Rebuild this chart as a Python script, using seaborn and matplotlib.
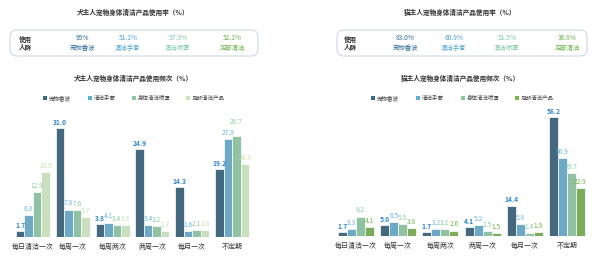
import matplotlib
matplotlib.use("Agg")
import matplotlib.pyplot as plt
from matplotlib.patches import FancyBboxPatch, Rectangle
import seaborn as sns
import pandas as pd

sns.set_theme(style="white")
plt.rcParams['font.family'] = ['Noto Sans CJK SC', 'DejaVu Sans']

categories = ["每日清洁一次", "每周一次", "每周两次", "两周一次", "每月一次", "不定期"]
series = ["宠物香波", "清洁手套", "身体清洁喷雾", "足部清洁产品"]

dog_shampoo = [1.7, 31.0, 3.8, 24.9, 14.3, 19.2]
dog_gloves = [6.3, 7.8, 4.1, 3.4, 1.6, 27.9]
dog_spray = [12.9, 7.6, 3.4, 3.2, 2.1, 28.7]
dog_foot = [18.5, 5.7, 3.3, 1.7, 1.9, 20.8]

cat_shampoo = [1.7, 5.0, 1.7, 4.1, 14.4, 56.2]
cat_gloves = [3.3, 6.5, 3.2, 5.2, 5.8, 36.9]
cat_spray = [9.2, 5.5, 3.2, 2.5, 1.4, 29.7]
cat_foot = [4.1, 3.8, 2.6, 1.5, 1.9, 22.9]

usage_labels = ["宠物香波", "清洁手套", "清洁喷雾", "足部清洁"]
dog_usage = ["95%", "51.1%", "57.9%", "52.1%"]
cat_usage = ["83.0%", "60.9%", "51.5%", "36.8%"]

dog_title1 = "犬主人宠物身体清洁产品使用率（%）"
dog_title2 = "犬主人宠物身体清洁产品使用频次（%）"
cat_title1 = "猫主人宠物身体清洁产品使用率（%）"
cat_title2 = "猫主人宠物身体清洁产品使用频次（%）"

bar_colors_dog = ["#3b6a88", "#5eaed3", "#88c9a1", "#c9e4b8"]
bar_colors_cat = ["#3b6a88", "#5eaed3", "#88c9a1", "#7ab84f"]
label_colors_dog = ["#2f86cc", "#6ab6de", "#8acda3", "#c4e2b0"]
label_colors_cat = ["#2f86cc", "#6ab6de", "#8acda3", "#72b446"]
usage_colors = ["#2f6e98", "#4ba3d0", "#80c9a2", "#6cb24a"]


def long_df(vals):
    rows = []
    for s, v in zip(series, vals):
        for c, x in zip(categories, v):
            rows.append({"cat": c, "series": s, "value": x})
    return pd.DataFrame(rows)


fig = plt.figure(figsize=(6.0, 2.61), dpi=100)

# background overlay in pixel coordinates
bg = fig.add_axes([0, 0, 1, 1], zorder=0)
bg.set_xlim(0, 600)
bg.set_ylim(261, 0)
bg.axis("off")

fs_title = 4.8


def panel_header(x0, x1, xc, t1, t2, usage, label_xs, head_x):
    bg.text(xc, 12, t1, ha="center", va="center", fontsize=fs_title, color="#333333", fontweight="bold")
    bg.add_patch(FancyBboxPatch((x0, 30), x1 - x0, 26, boxstyle="round,pad=0,rounding_size=7",
                                fc="white", ec="#c6d3e2", lw=0.7))
    bg.text(head_x, 43, "使用\n人群", ha="center", va="center", fontsize=4.7, color="#333333",
            fontweight="bold", linespacing=1.15)
    for x, v, lab, col in zip(label_xs, usage, usage_labels, usage_colors):
        bg.text(x, 38, v, ha="center", va="center", fontsize=4.8, color=col)
        bg.text(x, 48, lab, ha="center", va="center", fontsize=4.6, color=col)
    bg.text(xc, 78, t2, ha="center", va="center", fontsize=fs_title, color="#333333", fontweight="bold")


panel_header(10, 258, 133, dog_title1, dog_title2, dog_usage, [82, 128, 178, 232], 25)
panel_header(337, 587, 460, cat_title1, cat_title2, cat_usage, [405, 454, 507, 567], 350)


def legend_row(xs, colors):
    for x, s, c in zip(xs, series, colors):
        bg.add_patch(Rectangle((x - 2, 96), 4, 4, fc=c, ec="none"))
        bg.text(x + 4, 98, s, ha="left", va="center", fontsize=4.0, color="#444444")


legend_row([45, 90, 134, 188], bar_colors_dog)
legend_row([373, 418, 463, 517], bar_colors_cat)


def bar_panel(rect, vals, colors, lcolors, ymax):
    ax = fig.add_axes(rect, zorder=1)
    ax.patch.set_alpha(0)
    df = long_df(vals)
    sns.barplot(data=df, x="cat", y="value", hue="series", hue_order=series, order=categories,
                palette=colors, width=0.85, edgecolor="white", linewidth=0.5,
                legend=False, ax=ax, errorbar=None)
    labels = []
    for i, cont in enumerate(ax.containers):
        labels.append(ax.bar_label(cont, fmt="%.1f", padding=1.5, fontsize=4.8, color=lcolors[i],
                                   fontweight="bold" if i == 0 else "normal"))
    ax.set_xlim(-0.5, 5.5)
    ax.set_ylim(0, ymax)
    ax.set_xlabel("")
    ax.set_ylabel("")
    ax.set_yticks([])
    ax.tick_params(axis="x", length=0, pad=4, labelsize=5.0, labelcolor="#333333")
    for sp in ax.spines.values():
        sp.set_visible(False)
    return ax, labels


ax_dog, dog_labels = bar_panel([13 / 600, 24 / 261, 239 / 600, 132 / 261],
                               [dog_shampoo, dog_gloves, dog_spray, dog_foot],
                               bar_colors_dog, label_colors_dog, 37.5)
# lift the spray label of the last group above the neighbouring glove label
dog_labels[2][5].xyann = (0, 7)

bar_panel([335 / 600, 25 / 261, 253 / 600, 131 / 261],
          [cat_shampoo, cat_gloves, cat_spray, cat_foot], bar_colors_cat, label_colors_cat, 62)

fig.savefig("out.png", dpi=100, facecolor="white")
